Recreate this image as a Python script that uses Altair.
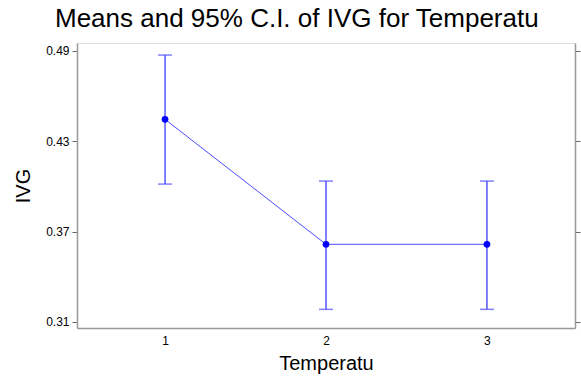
import altair as alt
import pandas as pd

temps = [1, 2, 3]
means = [0.4446, 0.3616, 0.3616]
lower = [0.4016, 0.3184, 0.3184]
upper = [0.4873, 0.4036, 0.4036]
y_ticks = [0.31, 0.37, 0.43, 0.49]

df = pd.DataFrame({"Temperatu": temps, "IVG": means, "lo": lower, "hi": upper})

FONT = "Liberation Sans"
xscale = alt.Scale(domain=[0.453, 3.547], nice=False, zero=False)
yscale = alt.Scale(domain=[0.30601, 0.49531], nice=False, zero=False)

xenc = alt.X("Temperatu:Q", scale=xscale,
             axis=alt.Axis(values=temps, format="d", ticks=False, grid=False,
                           title="Temperatu", titleFontSize=20, titleFontWeight="normal",
                           titleFont=FONT, titleColor="#000", titlePadding=7,
                           labelFont=FONT, labelFontSize=12, labelColor="#000",
                           labelPadding=7, domainColor="#999", domainWidth=1.5))

yaxis = alt.Axis(values=y_ticks, format=".2f", grid=False, tickSize=5,
                 tickColor="#666", labelFont=FONT, labelFontSize=12, labelColor="#000",
                 labelPadding=3, domainColor="#999", domainWidth=1.5,
                 title="IVG", titleFontSize=20, titleFontWeight="normal",
                 titleFont=FONT, titleColor="#000", titlePadding=12)

base = alt.Chart(df)

bars = base.mark_rule(color="#2a2aff", strokeWidth=1.2).encode(
    x=xenc, y=alt.Y("lo:Q", scale=yscale, axis=yaxis), y2="hi:Q")
cap_lo = base.mark_tick(color="#4a4aff", size=14, thickness=1.5, orient="horizontal").encode(
    x="Temperatu:Q", y=alt.Y("lo:Q", scale=yscale))
cap_hi = base.mark_tick(color="#4a4aff", size=14, thickness=1.5, orient="horizontal").encode(
    x="Temperatu:Q", y=alt.Y("hi:Q", scale=yscale))
line = base.mark_line(color="#4d4dff", strokeWidth=1).encode(
    x="Temperatu:Q", y=alt.Y("IVG:Q", scale=yscale))
pts = base.mark_point(color="#0000ff", filled=True, opacity=1, size=45).encode(
    x="Temperatu:Q", y=alt.Y("IVG:Q", scale=yscale))

right = base.mark_point(opacity=0).encode(
    x="Temperatu:Q",
    y=alt.Y("IVG:Q", scale=yscale,
            axis=alt.Axis(orient="right", values=y_ticks, labels=False, title=None,
                          grid=False, tickSize=5, tickColor="#666",
                          domainColor="#999", domainWidth=1.5)))

main = alt.layer(bars, cap_lo, cap_hi, line, pts)
chart = alt.layer(main, right).resolve_scale(y="independent").properties(
    width=498, height=285,
    title=alt.TitleParams("Means and 95% C.I. of IVG for Temperatu", anchor="start",
                          frame="group", dx=-22, fontSize=26, font=FONT,
                          fontWeight="normal", color="#000", offset=11),
    autosize=alt.AutoSizeParams(type="none"),
    padding={"left": 77, "top": 43, "right": 6, "bottom": 52},
).configure_view(stroke="#333", strokeWidth=1.5).configure(background="white")

chart.save("out.html", embed_options={"renderer": "svg", "actions": False})
